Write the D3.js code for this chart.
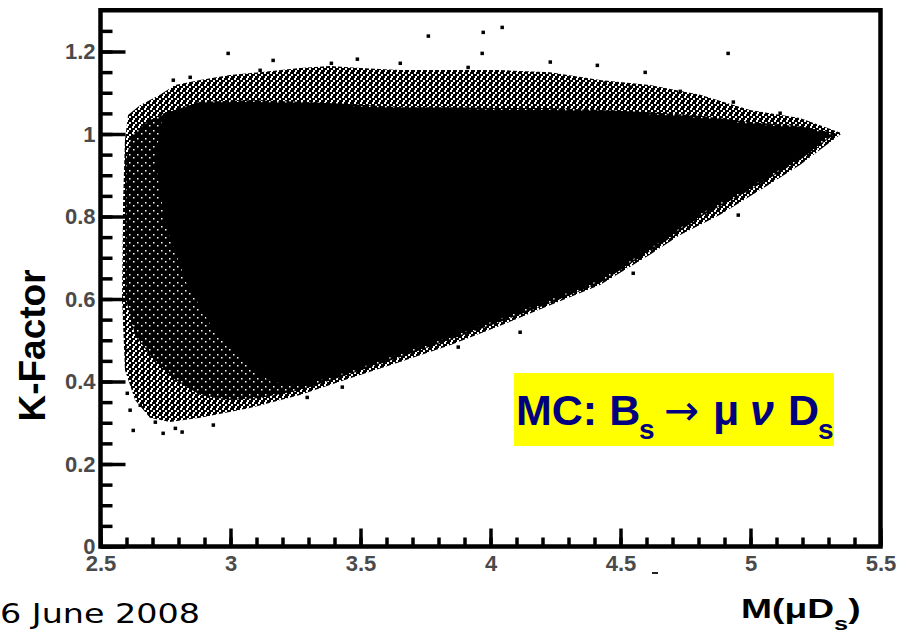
<!DOCTYPE html>
<html>
<head>
<meta charset="utf-8">
<script src="https://cdn.jsdelivr.net/npm/d3@7"></script>
<style>
  html, body { margin: 0; padding: 0; background: #fff; }
  svg { display: block; }
</style>
</head>
<body>
<svg id="chart" width="902" height="637"></svg>
<script>
// tick values and labels
const xTickValues = [2.5, 3, 3.5, 4, 4.5, 5, 5.5];
const xTickLabels = ['2.5', '3', '3.5', '4', '4.5', '5', '5.5'];
const yTickValues = [0, 0.2, 0.4, 0.6, 0.8, 1, 1.2];
const yTickLabels = ['0', '0.2', '0.4', '0.6', '0.8', '1', '1.2'];

// outer envelope of the scatter (sparse points), [M, K]
const fringeEdge = [
  [2.587, 0.840], [2.594, 0.985], [2.606, 1.046], [2.652, 1.070], [2.729, 1.095],
  [2.787, 1.119], [2.883, 1.131], [2.998, 1.143], [3.113, 1.150], [3.267, 1.160],
  [3.383, 1.165], [3.498, 1.160], [3.652, 1.155], [3.844, 1.155], [4.037, 1.155],
  [4.229, 1.150], [4.421, 1.131], [4.613, 1.119], [4.806, 1.095], [4.998, 1.058],
  [5.190, 1.039], [5.352, 1.002],
  [5.190, 0.925], [5.037, 0.864], [4.883, 0.804], [4.729, 0.755], [4.613, 0.707],
  [4.421, 0.634], [4.229, 0.585], [4.037, 0.535], [3.844, 0.488], [3.652, 0.447],
  [3.460, 0.408], [3.267, 0.367], [3.075, 0.336], [2.883, 0.312], [2.767, 0.302],
  [2.690, 0.312], [2.633, 0.355], [2.594, 0.428], [2.583, 0.598]
];

// speckled core (most points overlap)
const coreEdge = [
  [2.598, 0.598], [2.598, 0.937], [2.621, 0.998], [2.690, 1.034], [2.787, 1.058],
  [2.883, 1.078], [3.075, 1.082], [3.267, 1.078], [3.460, 1.073], [3.652, 1.065],
  [3.844, 1.065], [4.037, 1.063], [4.229, 1.063], [4.421, 1.058], [4.613, 1.053],
  [4.806, 1.044], [4.998, 1.029], [5.190, 1.019], [5.329, 1.002],
  [5.190, 0.937], [4.998, 0.864], [4.806, 0.799], [4.652, 0.731], [4.421, 0.639],
  [4.229, 0.590], [4.037, 0.544], [3.844, 0.501], [3.652, 0.459], [3.460, 0.418],
  [3.267, 0.379], [3.113, 0.360], [2.998, 0.355], [2.883, 0.367], [2.787, 0.404],
  [2.690, 0.464], [2.633, 0.513]
];

// fully saturated region
const solidEdge = [
  [2.710, 0.937], [2.740, 1.050], [2.883, 1.075], [3.075, 1.078], [3.267, 1.073],
  [3.460, 1.068], [3.652, 1.061], [3.844, 1.061], [4.037, 1.058], [4.229, 1.058],
  [4.421, 1.053], [4.613, 1.048], [4.806, 1.039], [4.998, 1.024], [5.190, 1.015],
  [5.306, 1.000],
  [5.190, 0.942], [4.998, 0.872], [4.806, 0.806], [4.652, 0.738], [4.421, 0.646],
  [4.229, 0.598], [4.037, 0.552], [3.844, 0.508], [3.652, 0.467], [3.460, 0.425],
  [3.267, 0.389], [3.152, 0.400], [3.037, 0.455], [2.921, 0.540], [2.830, 0.640],
  [2.750, 0.780]
];

// isolated events outside the bulk
const outliers = [
  [3.760, 1.238], [3.971, 1.247], [4.044, 1.259], [3.967, 1.196], [3.387, 1.172],
  [3.487, 1.182], [3.913, 1.162], [4.410, 1.167], [2.990, 1.196], [3.163, 1.179],
  [3.113, 1.155], [2.779, 1.131], [2.844, 1.138], [4.913, 1.196], [4.440, 1.124],
  [4.537, 1.114], [4.729, 1.104], [4.933, 1.078], [5.113, 1.051], [4.952, 0.804],
  [4.113, 0.520], [3.875, 0.484], [3.294, 0.362], [3.429, 0.387], [4.548, 0.663],
  [2.625, 0.282], [2.740, 0.275], [2.813, 0.278], [2.710, 0.302], [2.602, 0.372],
  [2.602, 0.476], [2.933, 0.295], [2.652, 0.343], [2.613, 0.331], [2.787, 0.287],
  [3.652, 1.172], [4.229, 1.175], [4.594, 1.150]
];

const svg = d3.select('#chart');

const x = d3.scaleLinear().domain([2.5, 5.5]).range([100.5, 880.5]);
const y = d3.scaleLinear().domain([0, 1.3]).range([546.5, 10.25]);

// fill patterns for the speckled regions: black tile with white holes
function addSpeckle(id, size, holeSize, holes) {
  const p = svg.append('defs').append('pattern')
    .attr('id', id)
    .attr('patternUnits', 'userSpaceOnUse')
    .attr('width', size)
    .attr('height', size);
  p.append('rect').attr('width', size).attr('height', size).attr('fill', '#000');
  holes.forEach(function (h) {
    p.append('rect')
      .attr('x', h[0]).attr('y', h[1])
      .attr('width', holeSize).attr('height', holeSize)
      .attr('fill', '#fff');
  });
}

addSpeckle('sparse', 6, 2, [[0, 0], [3, 2], [1, 4]]);
addSpeckle('dense', 8, 1.5, [[1, 2], [5, 5]]);

const area = d3.line()
  .x(function (d) { return x(d[0]); })
  .y(function (d) { return y(d[1]); });

svg.append('path')
  .attr('d', area(fringeEdge) + 'Z')
  .attr('fill', 'url(#sparse)');

svg.append('path')
  .attr('d', area(coreEdge) + 'Z')
  .attr('fill', 'url(#dense)');

svg.append('path')
  .attr('d', area(solidEdge) + 'Z')
  .attr('fill', '#000');

svg.append('g')
  .selectAll('rect')
  .data(outliers)
  .enter()
  .append('rect')
  .attr('x', function (d) { return x(d[0]) - 1.5; })
  .attr('y', function (d) { return y(d[1]) - 1.5; })
  .attr('width', 3.5)
  .attr('height', 3.5)
  .attr('fill', '#000');

// axes: ticks point inward, frame drawn separately
const labelFont = "'Liberation Sans', Arial, sans-serif";

const xMinor = svg.append('g')
  .attr('transform', 'translate(0,' + y(0) + ')')
  .call(d3.axisBottom(x).tickValues(d3.range(2.5, 5.51, 0.1)).tickSize(-9).tickFormat(''));

const xMajor = svg.append('g')
  .attr('transform', 'translate(0,' + y(0) + ')')
  .call(d3.axisBottom(x)
    .tickValues(xTickValues)
    .tickSize(-18)
    .tickPadding(9)
    .tickFormat(function (d, i) { return xTickLabels[i]; }));

const yMinor = svg.append('g')
  .attr('transform', 'translate(' + x(2.5) + ',0)')
  .call(d3.axisLeft(y).tickValues(d3.range(0, 1.3, 0.05)).tickSize(-12).tickFormat(''));

const yMajor = svg.append('g')
  .attr('transform', 'translate(' + x(2.5) + ',0)')
  .call(d3.axisLeft(y)
    .tickValues(yTickValues)
    .tickSize(-25)
    .tickPadding(5)
    .tickFormat(function (d, i) { return yTickLabels[i]; }));

[xMinor, xMajor, yMinor, yMajor].forEach(function (g) {
  g.select('.domain').remove();
  g.selectAll('.tick line').attr('stroke', '#000').attr('stroke-width', 3.5);
  g.selectAll('.tick text')
    .attr('fill', '#4a4a4a')
    .style('font-family', labelFont)
    .style('font-weight', 'bold')
    .style('font-size', '22px');
});

svg.append('rect')
  .attr('x', x(2.5))
  .attr('y', y(1.3))
  .attr('width', x(5.5) - x(2.5))
  .attr('height', y(0) - y(1.3))
  .attr('fill', 'none')
  .attr('stroke', '#000')
  .attr('stroke-width', 4.5);

// stray mark under the 4.5 label
svg.append('rect')
  .attr('x', 652).attr('y', 572)
  .attr('width', 6).attr('height', 2)
  .attr('fill', '#222');

// axis titles
svg.append('text')
  .attr('transform', 'translate(45,345.5) rotate(-90)')
  .attr('text-anchor', 'middle')
  .style('font-family', labelFont)
  .style('font-weight', 'bold')
  .style('font-size', '37px')
  .text('K-Factor');

const xTitle = svg.append('text')
  .attr('transform', 'translate(741,618) scale(1.33,1)')
  .style('font-family', labelFont)
  .style('font-weight', 'bold')
  .style('font-size', '28px');
xTitle.append('tspan').text('M(\u03bcD');
xTitle.append('tspan').attr('dy', 12).style('font-size', '19px').text('s');
xTitle.append('tspan').attr('dy', -12).text(')');

// footer date
svg.append('text')
  .attr('x', 0)
  .attr('y', 623)
  .attr('textLength', 200)
  .attr('lengthAdjust', 'spacingAndGlyphs')
  .style('font-family', "'DejaVu Sans', Verdana, sans-serif")
  .style('font-size', '27px')
  .text('6 June 2008');

// decay annotation
svg.append('rect')
  .attr('x', 514).attr('y', 373)
  .attr('width', 320).attr('height', 73)
  .attr('fill', '#ffff00');

const note = svg.append('text')
  .attr('y', 425)
  .attr('fill', '#000080')
  .style('font-family', labelFont)
  .style('font-weight', 'bold')
  .style('font-size', '43px');
note.append('tspan').attr('x', 516).text('MC: B');
note.append('tspan').attr('x', 639).attr('dy', 14).style('font-size', '28px').text('s');
note.append('tspan').attr('x', 664).attr('dy', -14)
  .style('font-family', "'DejaVu Sans', sans-serif")
  .style('font-weight', 'normal')
  .style('font-size', '42px')
  .text('\u2192');
note.append('tspan').attr('x', 713).text('\u03bc');
note.append('tspan').attr('x', 750).style('font-style', 'italic').text('\u03bd');
note.append('tspan').attr('x', 788).text('D');
note.append('tspan').attr('x', 818).attr('dy', 14).style('font-size', '28px').text('s');
</script>
</body>
</html>
